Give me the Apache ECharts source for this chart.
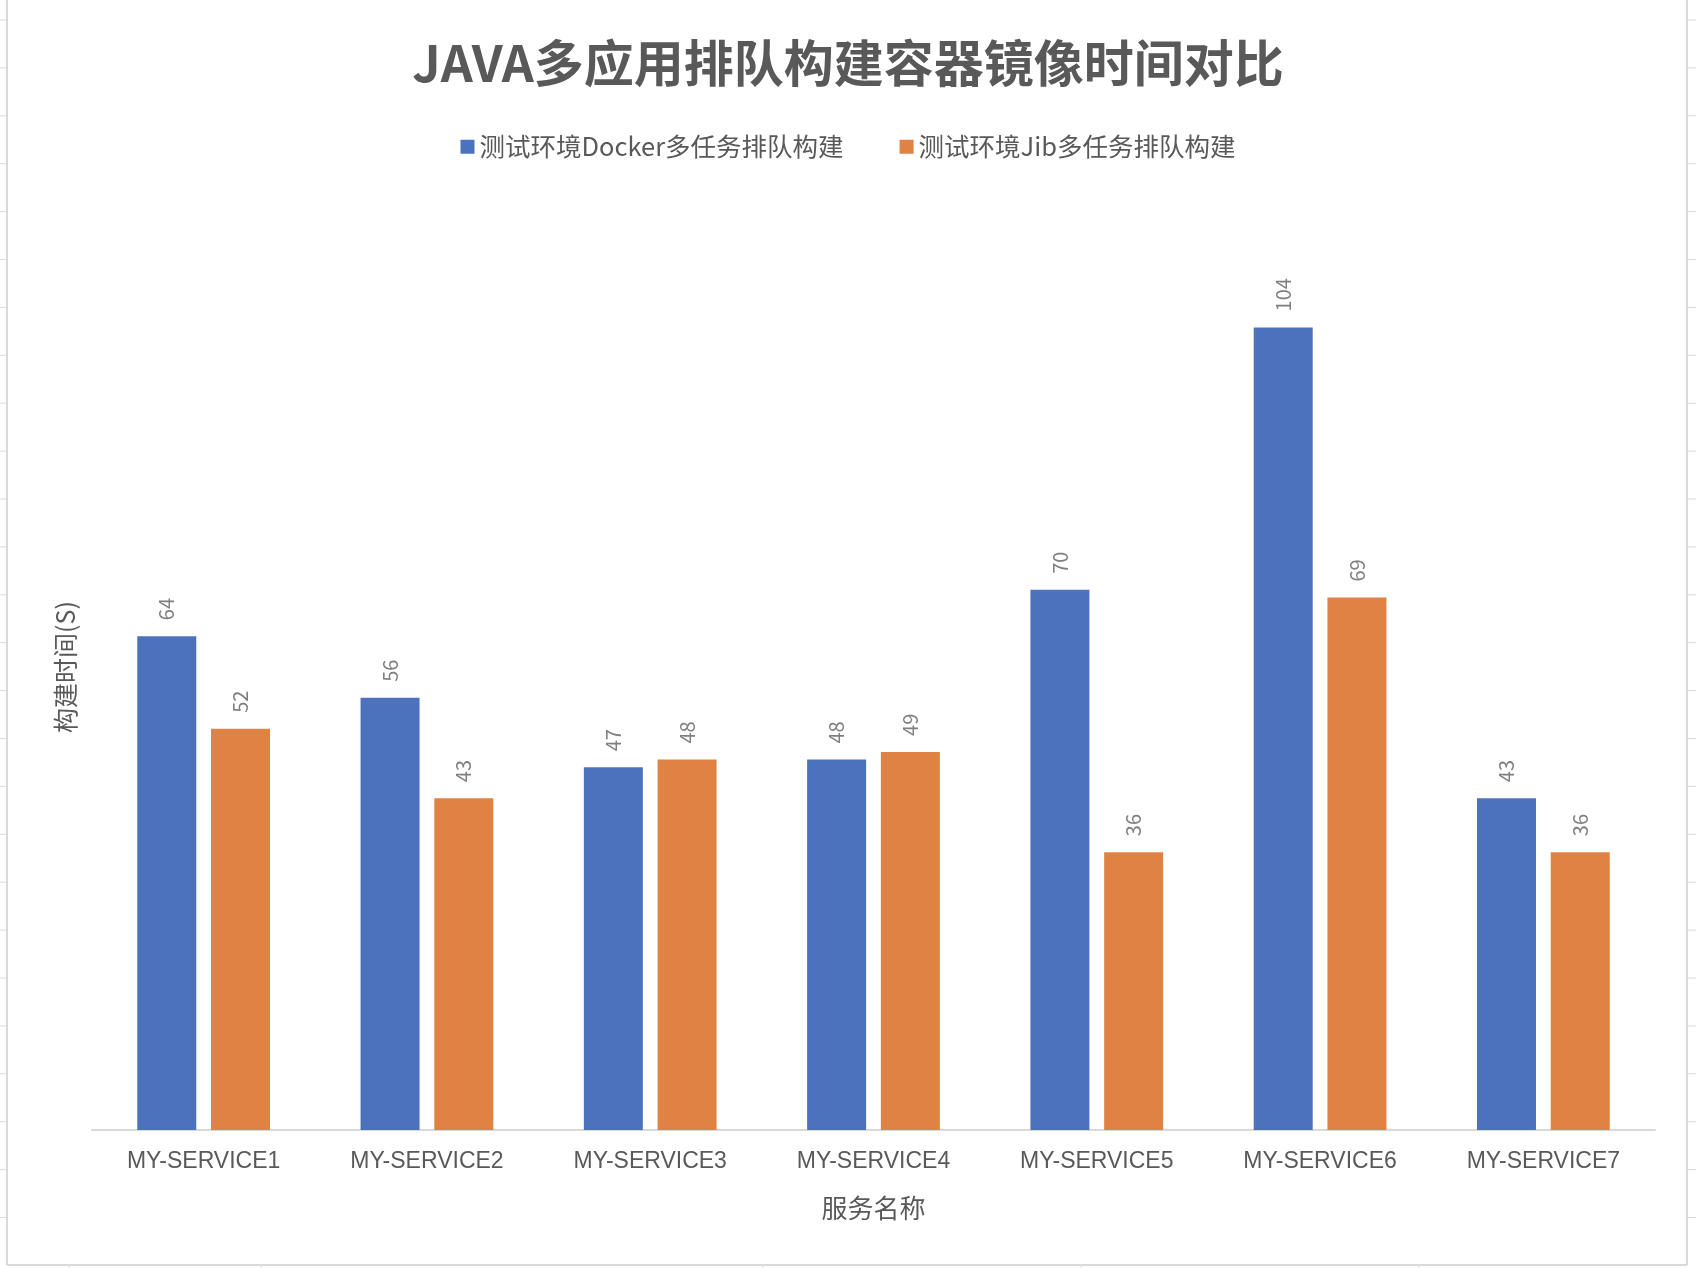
<!DOCTYPE html>
<html><head><meta charset="utf-8">
<script src="https://cdn.jsdelivr.net/npm/echarts@6/dist/echarts.min.js"></script>
<style>html,body{margin:0;padding:0;background:#fff}#c{width:1696px;height:1268px}</style>
</head><body><div id="c"></div>
<script>
const titleText = 'JAVA多应用排队构建容器镜像时间对比';
const categories = ['MY-SERVICE1','MY-SERVICE2','MY-SERVICE3','MY-SERVICE4','MY-SERVICE5','MY-SERVICE6','MY-SERVICE7'];
const dockerName = '测试环境Docker多任务排队构建';
const jibName = '测试环境Jib多任务排队构建';
const dockerValues = [64, 56, 47, 48, 70, 104, 43];
const jibValues = [52, 43, 48, 49, 36, 69, 36];
const yAxisName = '构建时间(S)';
const xAxisName = '服务名称';

const FONT = '"Noto Sans CJK SC", "Noto Sans", sans-serif';
const chart = echarts.init(document.getElementById('c'), null, {renderer: 'canvas'});

// decorative spreadsheet borders around the chart
const deco = [];
const lineStyle = {stroke: '#d9d9d9', lineWidth: 2};
deco.push({type: 'line', shape: {x1: 7, y1: 0, x2: 7, y2: 1265}, style: lineStyle, silent: true});
deco.push({type: 'line', shape: {x1: 1687, y1: 0, x2: 1687, y2: 1265}, style: lineStyle, silent: true});
deco.push({type: 'line', shape: {x1: 7, y1: 1265, x2: 1687, y2: 1265}, style: lineStyle, silent: true});
for (let y = 20; y < 1260; y += 47.9) {
  deco.push({type: 'line', shape: {x1: 0, y1: y, x2: 7, y2: y}, style: {stroke: '#d9d9d9', lineWidth: 1}, silent: true});
  deco.push({type: 'line', shape: {x1: 1687, y1: y, x2: 1696, y2: y}, style: {stroke: '#d9d9d9', lineWidth: 1}, silent: true});
}
[69, 261, 763, 1081, 1419].forEach(x => {
  deco.push({type: 'line', shape: {x1: x, y1: 1265, x2: x, y2: 1268}, style: {stroke: '#d9d9d9', lineWidth: 1}, silent: true});
});

const labelCfg = {
  show: true, position: 'top', rotate: 90, align: 'left', verticalAlign: 'middle',
  distance: 16, color: '#7f7f7f', fontSize: 20, fontFamily: FONT
};

chart.setOption({
  backgroundColor: '#ffffff',
  animation: false,
  title: {
    text: titleText, left: 'center', top: 33,
    textStyle: {fontSize: 50, fontWeight: 'bold', color: '#595959', fontFamily: FONT}
  },
  legend: {
    data: [dockerName, jibName], left: 'center', top: 129,
    itemWidth: 14, itemHeight: 14, itemGap: 56,
    icon: 'rect',
    textStyle: {fontSize: 25.5, color: '#595959', fontFamily: FONT, padding: [0, 0, 0, 0]}
  },
  grid: {left: 92, right: 41, top: 204, bottom: 138, containLabel: false},
  xAxis: {
    type: 'category', data: categories,
    name: xAxisName, nameLocation: 'middle', nameGap: 65,
    nameTextStyle: {fontSize: 26, color: '#595959', fontFamily: FONT},
    axisLine: {show: true, lineStyle: {color: '#d9d9d9', width: 2}},
    axisTick: {show: false},
    axisLabel: {margin: 20, fontSize: 23, color: '#595959', fontFamily: '"Liberation Sans", sans-serif'}
  },
  yAxis: {
    type: 'value', min: 0, max: 120, interval: 20,
    name: yAxisName, nameLocation: 'middle', nameGap: 14,
    nameTextStyle: {fontSize: 25, color: '#595959', fontFamily: FONT},
    axisLine: {show: false}, axisTick: {show: false}, axisLabel: {show: false}, splitLine: {show: false}
  },
  graphic: deco,
  series: [
    {name: dockerName, type: 'bar', data: dockerValues, barWidth: 59, barGap: '25%',
     itemStyle: {color: '#4C72BE'}, label: labelCfg},
    {name: jibName, type: 'bar', data: jibValues, barWidth: 59,
     itemStyle: {color: '#DF8244'}, label: labelCfg}
  ]
});
</script></body></html>
